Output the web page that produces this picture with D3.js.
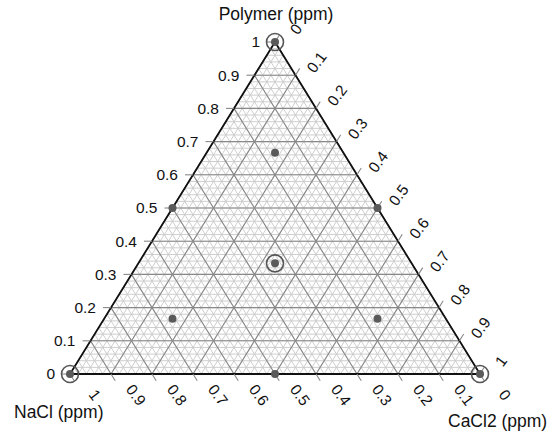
<!DOCTYPE html>
<html><head><meta charset="utf-8">
<script src="https://cdn.jsdelivr.net/npm/d3@7"></script>
<style>body{margin:0;background:#fff}svg{display:block}text{font-family:"Liberation Sans",Arial,sans-serif;fill:#111}</style>
</head><body>
<svg id="c" width="553" height="434"></svg>
<script>
// Axis names
const axisNames = {polymer: "Polymer (ppm)", cacl2: "CaCl2 (ppm)", nacl: "NaCl (ppm)"};
// Tick values
const tickValues = [0, 0.1, 0.2, 0.3, 0.4, 0.5, 0.6, 0.7, 0.8, 0.9, 1];
const tickLabels = ["0", "0.1", "0.2", "0.3", "0.4", "0.5", "0.6", "0.7", "0.8", "0.9", "1"];
// Design points (simplex-centroid)
const polymer = [1, 0, 0, 0.5, 0.5, 0, 1/3, 2/3, 1/6, 1/6];
const cacl2   = [0, 0, 1, 0.5, 0, 0.5, 1/3, 1/6, 2/3, 1/6];
const nacl    = [0, 1, 0, 0, 0.5, 0.5, 1/3, 1/6, 1/6, 2/3];
const ringed  = [true, true, true, false, false, false, true, false, false, false];

const svg = d3.select("#c");
const yP = d3.scaleLinear().domain([0, 1]).range([374, 42]);
const xP = d3.scaleLinear().domain([0, 1]).range([0, 205]);
const xC = d3.scaleLinear().domain([0, 1]).range([0, 410]);
const x0 = 70;
function pt(p, c) { return [x0 + xP(p) + xC(c), yP(p)]; }

const g = svg.append("g");
const minor = d3.range(0, 1.0001, 0.02);
const major = tickValues;
function lines(vals, color, w) {
  vals.forEach(v => {
    const segs = [
      [pt(v, 0), pt(v, 1 - v)],
      [pt(0, v), pt(1 - v, v)],
      [pt(0, 1 - v), pt(1 - v, 0)]
    ];
    segs.forEach(s => g.append("line").attr("x1", s[0][0]).attr("y1", s[0][1])
      .attr("x2", s[1][0]).attr("y2", s[1][1]).attr("stroke", color).attr("stroke-width", w));
  });
}
lines(minor, "#c8c8c8", 0.9);
lines(major, "#888", 1.1);

const T = pt(1, 0), L = pt(0, 0), R = pt(0, 1);
g.append("path").attr("d", `M${T}L${L}L${R}Z`).attr("fill", "none").attr("stroke", "#111").attr("stroke-width", 1.8);

const len = 8, fs = 15.5;
const ux = 205 / Math.hypot(205, 332), uy = 332 / Math.hypot(205, 332);
const ang = Math.atan2(332, 205) * 180 / Math.PI;
tickValues.forEach((v, i) => {
  let p = pt(v, 0);
  g.append("line").attr("x1", p[0]).attr("y1", p[1]).attr("x2", p[0] - len).attr("y2", p[1]).attr("stroke", "#888").attr("stroke-width", 1.1);
  g.append("text").attr("x", p[0] - 15).attr("y", p[1]).attr("dy", "0.35em").attr("text-anchor", "end").attr("font-size", fs).text(tickLabels[i]);
  p = pt(1 - v, v);
  g.append("line").attr("x1", p[0]).attr("y1", p[1]).attr("x2", p[0] + len * ux).attr("y2", p[1] - len * uy).attr("stroke", "#888").attr("stroke-width", 1.1);
  g.append("text").attr("transform", `translate(${p[0] + 21},${p[1] - 13}) rotate(${-ang + 5})`).attr("dy", "0.35em").attr("text-anchor", "middle").attr("font-size", fs).text(tickLabels[i]);
  p = pt(0, 1 - v);
  g.append("line").attr("x1", p[0]).attr("y1", p[1]).attr("x2", p[0] + len * ux).attr("y2", p[1] + len * uy).attr("stroke", "#888").attr("stroke-width", 1.1);
  g.append("text").attr("transform", `translate(${p[0] + 25},${p[1] + 21}) rotate(${ang - 5})`).attr("dy", "0.35em").attr("text-anchor", "middle").attr("font-size", fs).text(tickLabels[i]);
});

svg.append("text").attr("x", 276).attr("y", 20).attr("text-anchor", "middle").attr("font-size", 17.5).text(axisNames.polymer);
svg.append("text").attr("x", 14).attr("y", 418).attr("font-size", 17.5).text(axisNames.nacl);
svg.append("text").attr("x", 448).attr("y", 427).attr("font-size", 17.5).text(axisNames.cacl2);

polymer.forEach((p, i) => {
  const q = pt(p, cacl2[i]);
  if (ringed[i]) svg.append("circle").attr("cx", q[0]).attr("cy", q[1]).attr("r", 8.5).attr("fill", "none").attr("stroke", "#555").attr("stroke-width", 1.6);
  svg.append("circle").attr("cx", q[0]).attr("cy", q[1]).attr("r", 4).attr("fill", "#5a5a5a");
});
</script>
</body></html>
